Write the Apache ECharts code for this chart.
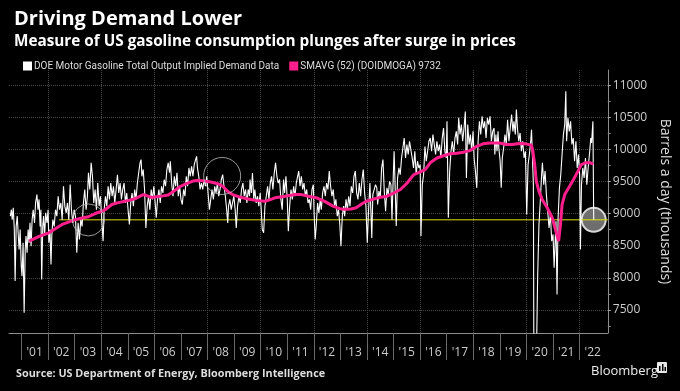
<!DOCTYPE html>
<html><head><meta charset="utf-8">
<script src="https://cdn.jsdelivr.net/npm/echarts@6/dist/echarts.min.js"></script>
<style>html,body{margin:0;padding:0;background:#000;}#c{width:680px;height:391px;}</style>
</head><body><div id="c"></div>
<script>
// Weekly implied gasoline demand (thousand barrels/day), decimal-year dates
const demandDates = [
2000.58,2000.62,2000.65,2000.69,2000.73,2000.76,2000.80,2000.84,2000.88,2000.91,2000.95,2000.99,
2001.02,2001.06,2001.10,2001.14,2001.17,2001.21,2001.25,2001.29,2001.32,2001.36,2001.40,2001.44,2001.49,2001.53,2001.58,2001.62,2001.66,2001.70,2001.73,2001.76,2001.80,2001.83,2001.87,2001.91,2001.96,
2002.00,2002.03,2002.07,2002.11,2002.14,2002.18,2002.23,2002.28,2002.33,2002.38,2002.43,2002.48,2002.53,2002.58,2002.63,2002.68,2002.73,2002.78,2002.83,2002.88,2002.93,2002.98,
2003.03,2003.08,2003.13,2003.18,2003.23,2003.28,2003.33,2003.38,2003.43,2003.48,2003.52,2003.57,2003.62,2003.67,2003.72,2003.77,2003.82,2003.87,2003.92,2003.97,
2004.02,2004.07,2004.11,2004.16,2004.21,2004.26,2004.31,2004.36,2004.41,2004.46,2004.51,2004.56,2004.61,2004.66,2004.71,2004.76,2004.81,2004.86,2004.91,2004.96,
2005.01,2005.06,2005.11,2005.16,2005.21,2005.26,2005.31,2005.36,2005.41,2005.46,2005.50,2005.53,2005.58,2005.63,2005.68,2005.73,2005.78,2005.83,2005.88,2005.93,2005.98,
2006.03,2006.07,2006.12,2006.17,2006.22,2006.27,2006.32,2006.37,2006.42,2006.47,2006.52,2006.57,2006.60,2006.65,2006.70,2006.75,2006.80,2006.85,2006.90,2006.95,
2007.00,2007.05,2007.10,2007.15,2007.20,2007.25,2007.30,2007.35,2007.40,2007.45,2007.50,2007.55,2007.59,2007.62,2007.67,2007.72,2007.77,2007.82,2007.87,2007.92,2007.97,
2008.02,2008.07,2008.12,2008.17,2008.22,2008.27,2008.32,2008.37,2008.42,2008.47,2008.52,2008.57,2008.62,2008.67,2008.72,2008.76,2008.79,2008.84,2008.89,2008.94,2008.99,
2009.04,2009.08,2009.13,2009.18,2009.23,2009.28,2009.33,2009.38,2009.43,2009.48,2009.53,2009.58,2009.60,2009.65,2009.69,2009.74,2009.78,2009.83,2009.88,2009.93,2009.98,
2010.02,2010.06,2010.11,2010.16,2010.21,2010.26,2010.31,2010.36,2010.41,2010.46,2010.51,2010.56,2010.61,2010.66,2010.71,2010.76,2010.81,2010.86,2010.90,2010.95,
2011.00,2011.04,2011.09,2011.14,2011.19,2011.24,2011.29,2011.34,2011.39,2011.43,2011.48,2011.53,2011.58,2011.63,2011.68,2011.73,2011.78,2011.83,2011.88,2011.93,2011.98,
2012.01,2012.05,2012.09,2012.14,2012.19,2012.24,2012.28,2012.33,2012.38,2012.43,2012.48,2012.53,2012.58,2012.63,2012.68,2012.73,2012.78,2012.83,2012.88,2012.93,2012.98,
2013.02,2013.07,2013.12,2013.16,2013.21,2013.26,2013.31,2013.36,2013.41,2013.46,2013.51,2013.56,2013.61,2013.66,2013.71,2013.76,2013.81,2013.86,2013.91,2013.96,
2014.01,2014.06,2014.11,2014.14,2014.18,2014.22,2014.27,2014.32,2014.37,2014.40,2014.45,2014.50,2014.55,2014.60,2014.65,2014.70,2014.75,2014.80,2014.85,2014.90,2014.94,2014.99,
2015.02,2015.06,2015.10,2015.15,2015.20,2015.25,2015.30,2015.35,2015.40,2015.45,2015.50,2015.55,2015.60,2015.65,2015.70,2015.75,2015.80,2015.85,2015.90,2015.95,
2016.00,2016.03,2016.08,2016.13,2016.18,2016.23,2016.28,2016.33,2016.38,2016.43,2016.48,2016.53,2016.58,2016.63,2016.68,2016.73,2016.78,2016.83,2016.88,2016.93,2016.98,
2017.01,2017.06,2017.11,2017.16,2017.21,2017.26,2017.31,2017.36,2017.41,2017.45,2017.50,2017.55,2017.60,2017.65,2017.70,2017.74,2017.79,2017.84,2017.89,2017.94,2017.99,
2018.03,2018.08,2018.13,2018.18,2018.23,2018.28,2018.33,2018.38,2018.43,2018.48,2018.53,2018.58,2018.63,2018.68,2018.73,2018.78,2018.81,2018.85,2018.89,2018.93,2018.96,
2019.01,2019.05,2019.09,2019.14,2019.19,2019.24,2019.29,2019.34,2019.39,2019.44,2019.49,2019.53,2019.58,2019.62,2019.66,2019.71,2019.76,2019.81,2019.86,2019.91,2019.96,
2020.01,2020.06,2020.11,2020.16,2020.19,2020.23,2020.26,2020.28,2020.30,2020.32,2020.34,2020.36,2020.38,2020.42,2020.47,2020.52,2020.57,2020.60,2020.65,2020.70,2020.75,2020.80,2020.85,2020.90,2020.95,
2021.00,2021.04,2021.08,2021.11,2021.15,2021.19,2021.24,2021.29,2021.34,2021.39,2021.44,2021.48,2021.51,2021.56,2021.61,2021.66,2021.71,2021.76,2021.81,2021.86,2021.91,2021.96,
2022.00,2022.03,2022.07,2022.12,2022.17,2022.22,2022.27,2022.32,2022.37,2022.42,2022.45,2022.50,2022.53
];
const demandValues = [
8960,9060,8905,9090,8750,7950,8800,8960,8650,8440,8750,8180,
8025,8545,7455,8440,8650,8390,8750,8545,8855,8490,8905,9060,8855,9165,9295,9060,9220,8800,9060,7975,8800,8960,8650,9010,8855,
9060,8545,8750,8205,8650,8905,8800,9060,8960,9270,9060,9165,8905,9425,9115,9010,9165,8905,9450,9060,8855,9060,
8960,8390,8855,8595,8905,8800,9165,9375,9060,9270,9635,9375,9790,9580,9165,9375,9060,9475,9115,9270,
8905,8570,9060,9270,9115,9425,9220,9475,9270,9425,9165,9375,9605,9320,9475,9220,9375,9475,9165,9320,
9060,8830,9165,9320,9115,9375,9220,9475,9635,9790,9840,9580,9685,9375,8775,9115,9270,9060,9375,9220,9425,
9165,8935,9220,9375,9165,9425,9320,9530,9425,9685,9790,9635,9815,9475,9270,9580,9425,9635,9270,9425,
9220,9140,9375,9270,9580,9425,9710,9580,9735,9580,9760,9840,9890,9710,9580,9375,9475,9375,9530,9425,9580,
9320,9060,9220,9375,9220,9425,9320,9475,9270,9375,9530,9605,9425,9270,9060,8855,9115,9220,9060,9165,9270,
9060,8775,9115,9270,9165,9375,9475,9270,9375,9165,9375,9270,9530,9320,9630,9220,9375,9165,9270,9115,9320,
9060,8750,8700,9115,9270,9425,9220,9475,9580,9375,9630,9790,9580,9475,9530,9220,9060,9530,9320,9580,
9220,8725,9115,9375,9220,9425,9270,9475,9580,9660,9425,9580,9375,9475,9270,9375,9165,9220,9060,9375,9450,
9010,8595,8805,9165,9010,9220,9060,9320,9425,9270,9475,9375,9660,9425,9270,9375,9115,9220,8960,9060,8805,
8490,8960,9115,8960,9220,9060,9270,9115,9425,9320,9580,9660,9320,9220,9475,9270,9530,9685,9320,9115,
8545,9060,9475,9450,8620,9300,9295,9450,9400,9140,9350,9250,9710,9840,9345,9035,9400,9300,9500,9450,8905,9605,
9970,9400,8805,9555,9710,9605,9865,10020,10175,9865,10075,9920,10125,10150,9865,9710,9970,9605,9815,9710,
9760,8650,9450,9605,10045,9815,9970,10125,10175,9970,10230,10075,9920,10125,9970,10075,9865,10175,10330,9970,9865,
10435,8935,9660,9970,10125,9920,10175,10280,10075,10490,10230,10385,10125,10330,10590,9555,10385,10075,10230,9970,10280,
9865,9660,9400,10125,10435,10230,10515,10330,10435,10175,10490,10385,10515,10125,10280,10330,9920,10230,9970,10280,10020,
9815,9400,9865,10020,10230,10075,10460,10125,10330,10540,10280,10435,10230,10620,10330,10125,10255,9970,10125,9865,9970,
8985,9760,9920,10125,10305,9815,9450,6600,5100,5300,5700,6300,6900,8000,8830,9190,9605,9790,9450,9660,9295,9035,8775,8985,8570,
8675,8155,8570,8880,7740,8935,9400,9605,9920,10230,10385,10905,10125,10490,10280,10435,10075,10175,9815,10125,9710,9920,
9605,8440,9450,9710,9555,9865,9450,9710,9920,10175,10100,10435,8902
];
// 52-week simple moving average
const smaDates = [
2001.29,2001.66,2002.03,2002.53,2003.03,2003.28,2003.52,2003.77,2004.02,2004.15,2004.40,2004.64,2004.89,
2005.27,2005.58,2005.71,2005.90,2006.08,2006.33,2006.52,2006.70,2006.95,2007.20,2007.45,2007.64,2007.89,
2008.13,2008.38,2008.57,2008.76,2008.94,2009.19,2009.44,2009.63,2009.80,2010.17,2010.54,2010.92,2011.29,
2011.54,2011.79,2012.10,2012.41,2012.72,2012.97,2013.15,2013.40,2013.59,2013.84,2014.03,2014.21,2014.51,
2014.76,2015.01,2015.26,2015.51,2015.76,2016.01,2016.19,2016.38,2016.63,2016.88,2017.13,2017.38,2017.62,
2017.87,2018.12,2018.37,2018.62,2018.98,2019.22,2019.47,2019.72,2019.97,2020.19,2020.24,2020.31,2020.37,
2020.47,2020.59,2020.78,2020.97,2021.09,2021.21,2021.28,2021.34,2021.44,2021.59,2021.77,2021.94,2022.06,
2022.21,2022.40,2022.52
];
const smaValues = [
8570,8645,8700,8830,8905,8930,8950,9000,9035,9060,9140,9170,9190,
9230,9295,9280,9250,9260,9275,9290,9340,9415,9465,9505,9515,9505,
9490,9465,9425,9345,9295,9260,9235,9220,9205,9190,9245,9270,9295,
9295,9270,9245,9190,9115,9075,9065,9070,9090,9160,9200,9220,9255,
9270,9320,9375,9475,9605,9650,9685,9790,9865,9900,9930,9940,9955,
9980,10045,10085,10100,10100,10075,10075,10090,10085,10065,9970,9760,9505,
9345,9220,9090,8935,8750,8570,8830,9140,9295,9400,9530,9660,9760,
9790,9790,9770
];
// Annotations
const highlightDates = [2003.52, 2008.55];
const highlightValues = [8900, 9585];
const latestDate = 2022.53;
const latestValue = 8902;
const refLineDates = [2002.42, 2023.06];

// Axes
const xTickYears = [2001,2002,2003,2004,2005,2006,2007,2008,2009,2010,2011,2012,2013,2014,2015,2016,2017,2018,2019,2020,2021,2022];
const xTickLabels = ["'01","'02","'03","'04","'05","'06","'07","'08","'09","'10","'11","'12","'13","'14","'15","'16","'17","'18","'19","'20","'21","'22"];
const xGridYears = [2002,2004,2006,2008,2010,2012,2014,2016,2018,2020,2022];
const yTickValues = [7500,8000,8500,9000,9500,10000,10500,11000];
const yMinorTickValues = [7250,7750,8250,8750,9250,9750,10250,10750];
const X_MIN = 2000.53, X_MAX = 2023.06, Y_MIN = 7140, Y_MAX = 11235;

const NAME_DEMAND = 'DOE Motor Gasoline Total Output Implied Demand Data';
const NAME_SMA = 'SMAVG (52) (DOIDMOGA) 9732';
const FONT = 'Open Sans';

const chart = echarts.init(document.getElementById('c'), null, {renderer: 'canvas'});
chart.setOption({
  backgroundColor: '#000',
  animation: false,
  title: [
    {text: 'Driving Demand Lower', left: 9, top: 4, textStyle: {color: '#fff', fontSize: 20, fontWeight: 'bold', fontFamily: FONT}},
    {text: 'Measure of US gasoline consumption plunges after surge in prices', left: 9, top: 29, textStyle: {color: '#fff', fontSize: 15.3, fontWeight: 'bold', fontFamily: FONT}},
    {text: 'Source: US Department of Energy, Bloomberg Intelligence', left: 11, top: 363, textStyle: {color: '#ddd', fontSize: 10.8, fontWeight: 'bold', fontFamily: FONT}},
    {text: 'Bloomberg', left: 586, top: 360, textStyle: {color: '#eee', fontSize: 13, fontWeight: 'normal', fontFamily: FONT}}
  ],
  legend: {
    left: 18, top: 56, itemWidth: 9, itemHeight: 9, itemGap: 10, icon: 'rect',
    data: [NAME_DEMAND, NAME_SMA],
    textStyle: {color: '#ddd', fontSize: 10, fontFamily: 'Roboto', padding: [0, 0, 0, -3]}
  },
  grid: {left: 9, right: 67, top: 70, bottom: 58},
  xAxis: [
    {type: 'value', min: X_MIN, max: X_MAX,
     axisLine: {show: true, lineStyle: {color: '#8c8c8c', width: 1}},
     axisTick: {show: true, customValues: xTickYears, length: 27, lineStyle: {color: '#6a6a6a'}},
     axisLabel: {customValues: xTickYears, formatter: v => xTickLabels[xTickYears.indexOf(Math.round(v))],
                 align: 'left', padding: [0, 0, 0, 5], margin: 14, color: '#ccc', fontSize: 12, fontFamily: FONT},
     splitLine: {show: false}},
    {type: 'value', min: X_MIN, max: X_MAX, position: 'bottom',
     axisLine: {show: false}, axisLabel: {show: false},
     axisTick: {show: false, customValues: xGridYears},
     splitLine: {show: true, lineStyle: {color: '#4a4a4a', type: 'dotted', width: 1}}}
  ],
  yAxis: [
    {type: 'value', position: 'right', min: Y_MIN, max: Y_MAX,
     axisLine: {show: true, lineStyle: {color: '#8c8c8c'}},
     axisTick: {show: true, customValues: yTickValues, length: 3, lineStyle: {color: '#aaa'}},
     axisLabel: {customValues: yTickValues, formatter: v => String(Math.round(v)), margin: 5, color: '#ccc', fontSize: 12, fontFamily: FONT},
     splitLine: {show: true, lineStyle: {color: '#4a4a4a', type: 'dotted', width: 1}},
     name: 'Barrels a day (thousands)', nameLocation: 'middle', nameRotate: -90, nameGap: 40,
     nameTextStyle: {color: '#ddd', fontSize: 14, fontFamily: FONT}},
    {type: 'value', position: 'right', min: Y_MIN, max: Y_MAX,
     axisLine: {show: false}, axisLabel: {show: false}, splitLine: {show: false},
     axisTick: {show: true, customValues: yMinorTickValues, length: 3, lineStyle: {color: '#888'}}}
  ],
  series: [
    {type: 'scatter', name: 'latest', xAxisIndex: 0, yAxisIndex: 0, z: 1, silent: true,
     symbolSize: 24, data: [[latestDate, latestValue]],
     itemStyle: {color: '#6e6e6e', borderColor: '#d8d8d8', borderWidth: 2, opacity: 1}},
    {type: 'line', name: 'ref', z: 2, silent: true, showSymbol: false,
     data: refLineDates.map(d => [d, latestValue]),
     lineStyle: {color: '#e5e000', width: 1}},
    {type: 'line', name: NAME_DEMAND, z: 3, showSymbol: false, clip: true,
     data: demandDates.map((d, i) => [d, demandValues[i]]),
     lineStyle: {color: '#ffffff', width: 1.1}, itemStyle: {color: '#ffffff'}},
    {type: 'line', name: NAME_SMA, z: 4, showSymbol: false, clip: true,
     data: smaDates.map((d, i) => [d, smaValues[i]]),
     lineStyle: {color: '#ff1f8c', width: 3}, itemStyle: {color: '#ff1f8c'}},
    {type: 'scatter', name: 'highlights', z: 5, silent: true,
     data: highlightDates.map((d, i) => [d, highlightValues[i]]),
     symbolSize: (v, p) => p.dataIndex === 0 ? 32 : 37,
     itemStyle: {color: 'rgba(0,0,0,0)', borderColor: '#bdbdbd', borderWidth: 1}}
  ],
  graphic: [
    {type: 'rect', left: 657, top: 362, shape: {width: 10, height: 11, r: 1}, style: {fill: '#e8e8e8'}},
    {type: 'rect', left: 659, top: 366, shape: {width: 1.5, height: 5}, style: {fill: '#000'}},
    {type: 'rect', left: 662, top: 364, shape: {width: 1.5, height: 7}, style: {fill: '#000'}},
    {type: 'rect', left: 664.5, top: 367, shape: {width: 1.5, height: 4}, style: {fill: '#000'}}
  ]
});
</script></body></html>
